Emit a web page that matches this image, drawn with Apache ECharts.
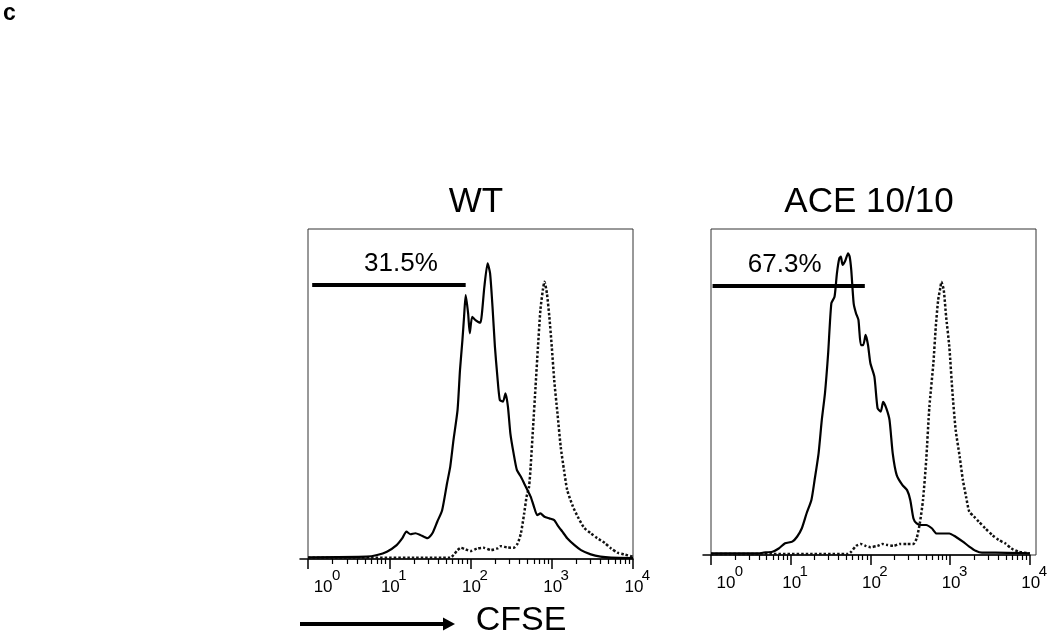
<!DOCTYPE html>
<html><head><meta charset="utf-8">
<script src="https://cdn.jsdelivr.net/npm/echarts@6/dist/echarts.min.js"></script>
<style>html,body{margin:0;padding:0;background:#fff}#c{width:1050px;height:639px}</style>
</head><body><div id="c"></div>
<script>
// ---- data (x = log10 CFSE intensity, y = relative cell count, % of max) ----
const panelTitles = ['WT', 'ACE 10/10'];
const gatePercents = ['31.5%', '67.3%'];
const gateRanges = [[0.05, 1.94], [0.02, 1.93]];
const gateLevels = [83.2, 82.5];
const majorTicks = [0, 1, 2, 3, 4];

const wtStimulated = [[0,0.5],[0.72,0.7],[0.85,1.2],[0.97,2.2],[1.09,4.2],[1.16,6.3],[1.21,8.3],[1.26,7.5],[1.32,7.8],[1.38,7.3],[1.47,6.3],[1.53,7.8],[1.59,11.3],[1.65,14.8],[1.71,22.9],[1.75,28.0],[1.79,36.1],[1.84,45.2],[1.87,57.3],[1.90,66.4],[1.92,73.4],[1.94,80.0],[1.97,74.4],[1.99,68.4],[2.02,73.4],[2.06,72.4],[2.12,71.6],[2.14,74.4],[2.17,82.5],[2.21,89.6],[2.24,86.6],[2.27,76.5],[2.30,64.3],[2.33,55.3],[2.36,48.2],[2.40,47.7],[2.43,50.2],[2.46,46.2],[2.49,38.1],[2.53,32.0],[2.57,27.0],[2.62,24.9],[2.66,22.9],[2.70,20.9],[2.74,18.9],[2.78,15.9],[2.82,13.3],[2.86,13.8],[2.91,12.8],[2.97,12.3],[3.03,11.8],[3.07,10.3],[3.13,8.3],[3.19,6.3],[3.28,4.2],[3.36,2.7],[3.48,1.4],[3.60,0.7],[3.73,0.4],[4.0,0.3]];
const wtUnstimulated = [[0,0.4],[1.75,0.4],[1.79,1.2],[1.84,2.7],[1.88,3.4],[1.94,2.9],[2.00,2.4],[2.08,3.2],[2.16,3.4],[2.25,2.7],[2.33,3.2],[2.37,3.9],[2.45,3.5],[2.53,3.4],[2.58,4.7],[2.62,7.8],[2.66,13.8],[2.69,18.9],[2.72,21.9],[2.74,28.0],[2.77,40.1],[2.80,52.2],[2.83,64.3],[2.86,75.5],[2.89,81.5],[2.91,84.0],[2.94,80.5],[2.97,73.4],[3.00,64.3],[3.03,54.2],[3.07,44.1],[3.11,34.0],[3.15,27.0],[3.19,20.9],[3.26,15.9],[3.32,12.8],[3.40,9.4],[3.48,7.8],[3.56,6.3],[3.65,4.9],[3.73,3.2],[3.81,1.9],[3.89,1.4],[4.0,0.7]];
const aceStimulated = [[0,0.5],[0.60,0.5],[0.65,0.7],[0.77,1.0],[0.85,2.0],[0.93,3.6],[1.02,4.1],[1.08,5.6],[1.14,8.2],[1.20,12.8],[1.26,16.9],[1.30,23.0],[1.35,31.2],[1.39,41.4],[1.43,49.6],[1.47,61.9],[1.51,77.2],[1.55,79.2],[1.58,86.4],[1.61,91.0],[1.63,91.5],[1.65,89.0],[1.68,90.0],[1.72,92.5],[1.74,91.5],[1.76,87.4],[1.79,77.2],[1.82,74.1],[1.85,72.1],[1.88,64.4],[1.91,64.4],[1.94,67.5],[1.97,64.4],[2.00,58.8],[2.05,54.7],[2.09,45.0],[2.13,44.0],[2.16,47.0],[2.20,45.0],[2.24,41.4],[2.28,31.2],[2.33,24.5],[2.40,21.5],[2.46,19.9],[2.50,16.9],[2.54,11.2],[2.58,9.7],[2.64,9.2],[2.70,9.2],[2.77,8.2],[2.83,6.6],[2.91,6.6],[2.99,6.6],[3.07,5.6],[3.16,4.1],[3.24,2.6],[3.32,1.3],[3.40,0.7],[3.57,0.7],[4.0,0.5]];
const aceUnstimulated = [[0,0.3],[1.72,0.3],[1.76,1.0],[1.82,2.8],[1.88,3.4],[1.94,2.8],[2.00,2.4],[2.09,2.8],[2.15,3.4],[2.21,3.1],[2.29,2.8],[2.37,3.4],[2.46,3.4],[2.54,3.4],[2.58,5.1],[2.62,9.7],[2.66,16.9],[2.70,29.1],[2.74,45.5],[2.79,58.8],[2.82,70.0],[2.85,78.2],[2.88,82.3],[2.89,83.8],[2.92,81.3],[2.95,73.1],[2.99,63.9],[3.03,49.6],[3.07,38.3],[3.12,30.2],[3.16,23.0],[3.20,17.9],[3.24,13.3],[3.30,11.8],[3.36,10.2],[3.44,8.2],[3.53,6.1],[3.61,4.6],[3.69,3.6],[3.77,2.0],[3.86,1.0],[4.0,0.5]];

// ---- chart ----
const FAMILY = 'Liberation Sans';
const FONT = '"Liberation Sans", Arial, sans-serif';
const minorTicks = [];
for (let d = 0; d < 4; d++) for (let k = 2; k <= 9; k++) minorTicks.push(d + Math.log10(k));

const chart = echarts.init(document.getElementById('c'), null, {renderer: 'canvas'});

const panels = [
  {data: {left: 300, top: 229, width: 333, height: 330}, box: {left: 308, top: 229, width: 325, height: 330},
   stim: wtStimulated, unstim: wtUnstimulated},
  {data: {left: 703, top: 229, width: 332, height: 326}, box: {left: 711, top: 229, width: 325, height: 326},
   stim: aceStimulated, unstim: aceUnstimulated}
];

const grid = [], xAxis = [], yAxis = [], series = [];
panels.forEach((p, i) => {
  const gd = grid.length;
  grid.push(Object.assign({show: false}, p.data));
  grid.push(Object.assign({show: true, borderColor: '#333', borderWidth: 1, backgroundColor: 'transparent'}, p.box));
  const xMain = xAxis.length;
  // major ticks + base "10"
  xAxis.push({
    type: 'value', gridIndex: gd, min: -0.1, max: 4, position: 'bottom',
    axisLine: {show: true, onZero: false, lineStyle: {color: '#000', width: 1.5}},
    axisTick: {show: true, inside: false, customValues: majorTicks, length: 10, lineStyle: {color: '#000', width: 1.5}},
    splitLine: {show: false},
    axisLabel: {
      show: true, customValues: majorTicks, margin: 20, color: '#000',
      fontSize: 17, fontFamily: FAMILY,
      formatter: v => (v === 0 ? '{f|10}' : '{n|10}'),
      rich: {
        n: {fontSize: 17, fontFamily: FAMILY, color: '#000', padding: [0, 0, 0, 2]},
        f: {fontSize: 17, fontFamily: FAMILY, color: '#000', padding: [0, 0, 0, 30]}
      }
    }
  });
  // minor ticks
  xAxis.push({
    type: 'value', gridIndex: gd, min: -0.1, max: 4, position: 'bottom',
    axisLine: {show: false},
    axisTick: {show: true, inside: false, customValues: minorTicks, length: 5, lineStyle: {color: '#000', width: 1.2}},
    axisLabel: {show: false}, splitLine: {show: false}
  });
  // exponent superscripts
  xAxis.push({
    type: 'value', gridIndex: gd, min: -0.1, max: 4, position: 'bottom',
    axisLine: {show: false}, axisTick: {show: false}, splitLine: {show: false},
    axisLabel: {
      show: true, customValues: majorTicks, margin: 9, color: '#000',
      fontSize: 15, fontFamily: FAMILY,
      formatter: v => (v === 0 ? '{g|' + v + '}' : '{e|' + v + '}'),
      rich: {
        e: {fontSize: 15, fontFamily: FAMILY, color: '#000', padding: [0, 0, 0, 26]},
        g: {fontSize: 15, fontFamily: FAMILY, color: '#000', padding: [0, 0, 0, 56]}
      }
    }
  });
  xAxis.push({type: 'value', gridIndex: gd + 1, show: false, min: 0, max: 1});
  const yMain = yAxis.length;
  yAxis.push({type: 'value', gridIndex: gd, min: 0, max: 100, show: false});
  yAxis.push({type: 'value', gridIndex: gd + 1, min: 0, max: 1, show: false});

  series.push({
    name: panelTitles[i] + ' unstimulated', type: 'line', xAxisIndex: xMain, yAxisIndex: yMain,
    data: p.unstim, showSymbol: false, smooth: 0.2, silent: true,
    lineStyle: {color: '#111', width: 2.5, type: [2.5, 2]}
  });
  series.push({
    name: panelTitles[i] + ' stimulated', type: 'line', xAxisIndex: xMain, yAxisIndex: yMain,
    data: p.stim, showSymbol: false, smooth: 0.2, silent: true,
    lineStyle: {color: '#000', width: 2.2},
    markLine: {
      silent: true, symbol: ['none', 'none'], animation: false,
      lineStyle: {color: '#000', width: 4, type: 'solid'},
      label: {show: true, position: 'insideMiddleTop', formatter: gatePercents[i], fontSize: 26,
              fontFamily: FAMILY, color: '#000', distance: 8, offset: [i === 0 ? 12 : -4, 0]},
      data: [[{coord: [gateRanges[i][0], gateLevels[i]]}, {coord: [gateRanges[i][1], gateLevels[i]]}]]
    }
  });
});

chart.setOption({
  animation: false,
  backgroundColor: '#fff',
  grid, xAxis, yAxis, series,
  graphic: [
    {type: 'text', left: 3, top: 2, style: {text: 'c', font: 'bold 23px ' + FONT, fill: '#000'}},
    {type: 'text', x: 476, y: 202, style: {text: panelTitles[0], font: '35px ' + FONT, fill: '#000', textAlign: 'center', textVerticalAlign: 'middle'}},
    {type: 'text', x: 869, y: 202, style: {text: panelTitles[1], font: '35px ' + FONT, fill: '#000', textAlign: 'center', textVerticalAlign: 'middle'}},
    {type: 'text', x: 521, y: 621, style: {text: 'CFSE', font: '34px ' + FONT, fill: '#000', textAlign: 'center', textVerticalAlign: 'middle'}},
    {type: 'line', shape: {x1: 300, y1: 624, x2: 446, y2: 624}, style: {stroke: '#000', lineWidth: 4}},
    {type: 'polygon', shape: {points: [[443, 617.5], [455, 624], [443, 630.5]]}, style: {fill: '#000'}}
  ]
});
</script></body></html>
